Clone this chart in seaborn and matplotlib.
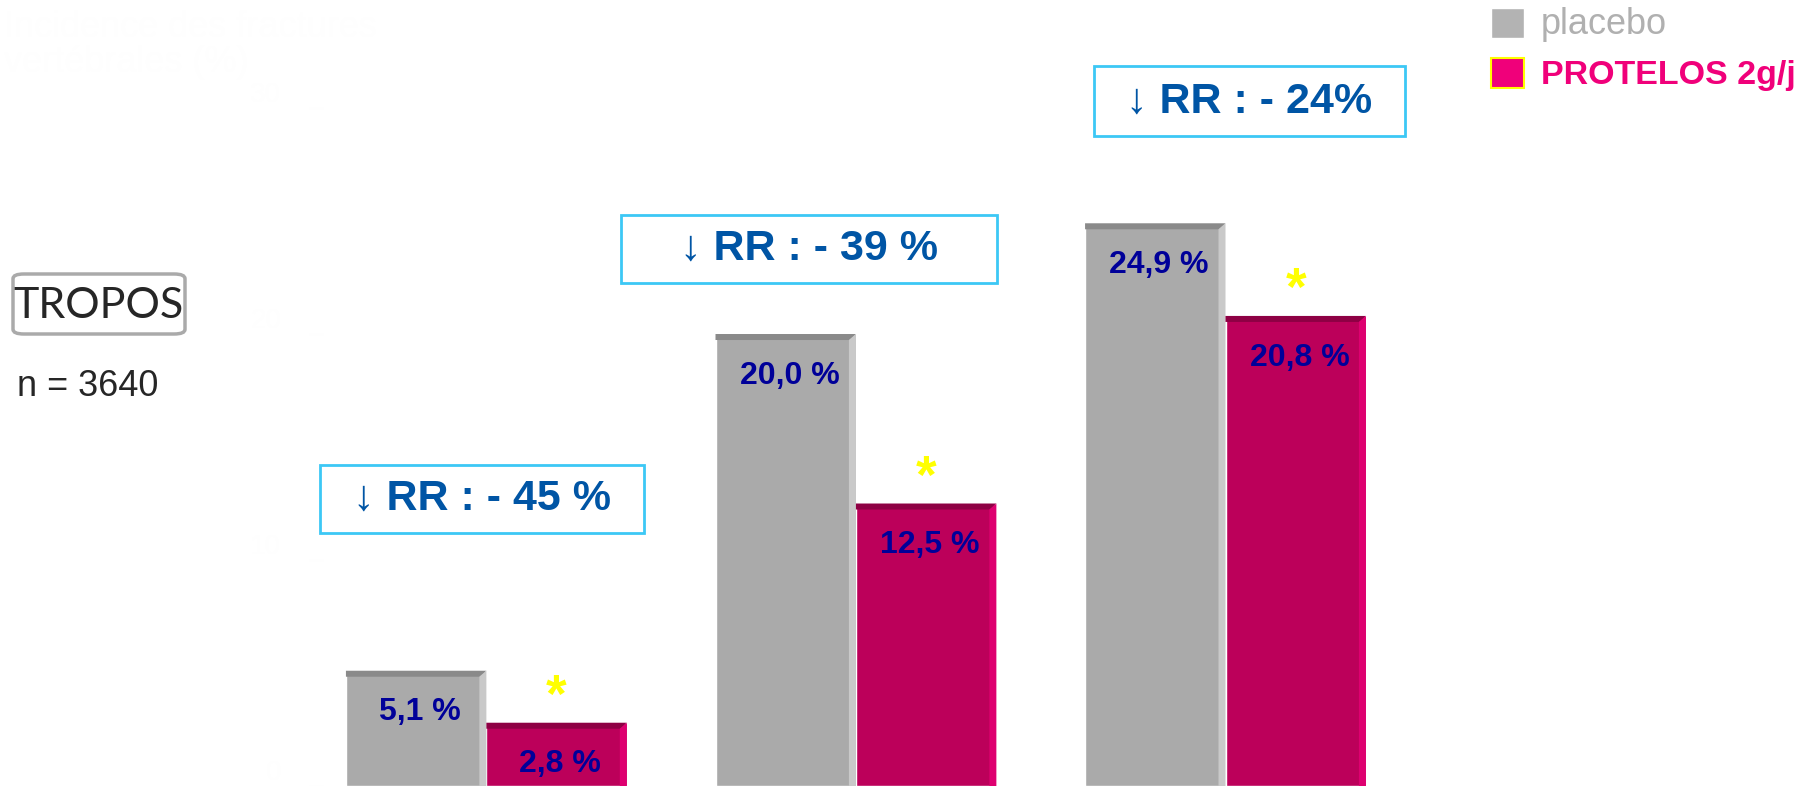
import numpy as np
import pandas as pd
import seaborn as sns
import matplotlib.pyplot as plt
from matplotlib.patches import Polygon, Rectangle, FancyBboxPatch

# ======== données =========
groupes = ['groupe 1', 'groupe 2', 'groupe 3']
traitements = ['placebo', 'PROTELOS 2g/j']
placebo = [5.1, 20.0, 24.9]
protelos = [2.8, 12.5, 20.8]
rr_textes = ['↓ RR : - 45 %', '↓ RR : - 39 %', '↓ RR : - 24%']
y_ticks = [0, 10, 20, 30]

df = pd.DataFrame({'groupe': groupes * 2,
                   'traitement': [traitements[0]] * 3 + [traitements[1]] * 3,
                   'incidence': placebo + protelos})

# ======== style =========
sns.set_style('white')
plt.rcParams['font.family'] = ['Liberation Sans', 'DejaVu Sans']

couleurs = {'placebo': '#aaaaaa', 'PROTELOS 2g/j': '#bc005a'}
haut_c = ['#8a8a8a', '#8e0044']
cote_c = ['#c9c9c9', '#de0070']
blanc_cache = '#fefefe'   # texte presque invisible (comme l'original)

W, H = 1812, 786
fig = plt.figure(figsize=(W / 100, H / 100), dpi=100, facecolor='white')
ax = fig.add_axes([316 / W, 0, 1 - 316 / W, 1])
ax.set_facecolor('none')

sns.barplot(data=df, x='groupe', y='incidence', hue='traitement',
            palette=couleurs, width=0.76, saturation=1, errorbar=None, ax=ax)
ax.set_xlim(-0.461, 3.587)
ax.set_ylim(0, 34.78)

# ======== effet 3D + étiquettes =========
dx, dy = 7 / 369.5, 6 / 22.6
for k, cont in enumerate(ax.containers):
    for bar in cont:
        x0, w, h = bar.get_x(), bar.get_width(), bar.get_height()
        x1 = x0 + w
        ax.add_patch(Polygon([(x0, h - dy), (x0, h), (x1, h), (x1 - dx, h - dy)],
                             closed=True, color=haut_c[k], lw=0))
        ax.add_patch(Polygon([(x1 - dx, h - dy), (x1, h), (x1, 0), (x1 - dx, 0)],
                             closed=True, color=cote_c[k], lw=0))
        ax.annotate(f'{h:.1f} %'.replace('.', ','), (x0 + w / 2 + 0.01, h),
                    xytext=(0, -30), textcoords='offset points',
                    ha='center', va='center', color='#000099',
                    fontsize=23, fontweight='bold')
        if k == 1:
            ax.annotate('*', (x0 + w / 2, h), xytext=(0, 18),
                        textcoords='offset points', ha='center', va='center',
                        color='#ffff00', fontsize=38, fontweight='bold')

# ======== encadrés RR =========
rr_boites = [(-0.012, 12.7, 0.877, 3.05),
             (0.873, 23.76, 1.015, 3.0),
             (2.064, 30.3, 0.842, 3.1)]
for txt, (cx, cy, bw, bh) in zip(rr_textes, rr_boites):
    ax.add_patch(Rectangle((cx - bw / 2, cy - bh / 2), bw, bh,
                           facecolor='white', edgecolor='#3cc8f5', lw=2, zorder=3))
    ax.text(cx, cy, txt, ha='center', va='center', color='#0055a5',
            fontsize=31, fontweight='bold', zorder=4)

# ======== axes (texte blanc, quasi invisible) =========
ax.set_yticks(y_ticks)
ax.set_xticks([])
ax.set_xlabel('')
ax.set_ylabel('')
ax.tick_params(axis='y', colors=blanc_cache, labelsize=20, length=10,
               direction='inout', pad=20, left=True)
for t in ax.get_yticklabels():
    t.set_va('bottom')
sns.despine(ax=ax, left=True, bottom=True)
fig.text(0.002, 0.987, 'Incidence des fractures\nvertébrales (%)',
         color=blanc_cache, fontsize=26, ha='left', va='top', linespacing=1.0)

# ======== légende =========
hd, lb = ax.get_legend_handles_labels()
leg = ax.legend(hd, lb, loc='upper left', bbox_to_anchor=(1491 / W, 1 - 7 / H),
                bbox_transform=fig.transFigure, frameon=False, fontsize=24,
                handlelength=1.0, handleheight=1.0, handletextpad=0.5,
                labelspacing=0.47, borderpad=0, borderaxespad=0)
leg.legend_handles[0].set_facecolor('#b3b3b3')
leg.legend_handles[1].set_facecolor('#f0007a')
leg.legend_handles[1].set_edgecolor('#ffff00')
leg.legend_handles[1].set_linewidth(1.5)
t0, t1 = leg.get_texts()
t0.set_color('#b0b0b0')
t0.set_fontsize(26)
t1.set_color('#f0007a')
t1.set_fontsize(24.5)
t1.set_fontweight('bold')

# ======== TROPOS =========
fig.patches.append(FancyBboxPatch((13 / W, 1 - 334 / H), 172 / W, 60 / H,
                                  boxstyle='round,pad=0,rounding_size=0.006',
                                  transform=fig.transFigure, fc='white',
                                  ec='#aaaaaa', lw=2.5, mutation_aspect=H / W * 2.3))
fig.text(99 / W, 1 - 306 / H, 'TROPOS', family=['Lato', 'DejaVu Sans'],
         fontsize=31, ha='center', va='center')
fig.text(17 / W, 1 - 387 / H, 'n = 3640', fontsize=26, ha='left', va='center')

fig.savefig('out.png', dpi=100, facecolor=fig.get_facecolor())
